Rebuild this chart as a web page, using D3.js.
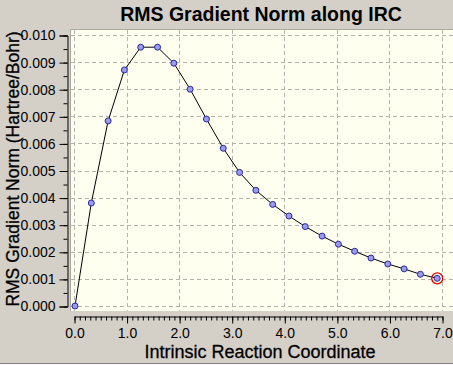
<!DOCTYPE html>
<html><head><meta charset="utf-8">
<script src="https://cdn.jsdelivr.net/npm/d3@7"></script>
<style>
html,body{margin:0;padding:0;background:#d4d0c8;}
svg{display:block;}
</style></head>
<body>
<script>
const title = "RMS Gradient Norm along IRC";
const xLabel = "Intrinsic Reaction Coordinate";
const yLabel = "RMS Gradient Norm (Hartree/Bohr)";
const ircCoord = [0, 0.31, 0.63, 0.94, 1.25, 1.57, 1.88, 2.19, 2.50, 2.82, 3.13, 3.44, 3.76, 4.07, 4.38, 4.70, 5.01, 5.32, 5.63, 5.95, 6.26, 6.57, 6.89];
const gradNorm = [0.0000, 0.00380, 0.00683, 0.00871, 0.00955, 0.00955, 0.00896, 0.00800, 0.00690, 0.00582, 0.00493, 0.00427, 0.00375, 0.00332, 0.00293, 0.00258, 0.00228, 0.00202, 0.00177, 0.00155, 0.00137, 0.00117, 0.00102];
const yTicks = [0.000, 0.001, 0.002, 0.003, 0.004, 0.005, 0.006, 0.007, 0.008, 0.009, 0.010];
const xTicks = [0, 1, 2, 3, 4, 5, 6, 7];

const W = 453, H = 365;
const svg = d3.select("body").append("svg").attr("width", W).attr("height", H);

svg.append("rect").attr("width", W).attr("height", H).attr("fill", "#d4d0c8");

const x = d3.scaleLinear().domain([0, 7]).range([75, 443]);
const y = d3.scaleLinear().domain([0, 0.010]).range([306, 35]);

// plot area
svg.append("rect").attr("x", 70).attr("y", 29).attr("width", W - 70).attr("height", 282).attr("fill", "#fffff0");
svg.append("path").attr("d", `M70.5,311V29.5H${W}`).attr("fill", "none").attr("stroke", "#a8a8a0").attr("stroke-width", 1);

// grid
const grid = svg.append("g").attr("class", "grid");
yTicks.forEach(t => {
  grid.append("line").attr("x1", 71).attr("x2", W).attr("y1", Math.round(y(t)) + 0.5).attr("y2", Math.round(y(t)) + 0.5);
});
xTicks.forEach(t => {
  grid.append("line").attr("y1", 30).attr("y2", 311).attr("x1", Math.round(x(t)) - 0.5).attr("x2", Math.round(x(t)) - 0.5);
});
grid.selectAll("line").attr("stroke", "#b4b4ac").attr("stroke-dasharray", "4,3").attr("stroke-width", 1);

const tickFont = "'Liberation Sans Narrow', 'Arial Narrow', 'Liberation Sans', Arial, sans-serif";

function blackAxis(g) {
  g.selectAll("line, path.domain").attr("stroke", "#000");
}

// y axis
const yMinor = d3.range(0, 0.0101, 0.0005);
const yMinorAxis = svg.append("g").attr("transform", "translate(67.5,0.5)")
  .call(d3.axisLeft(y).tickValues(yMinor).tickSize(4).tickSizeOuter(0).tickFormat(""));
yMinorAxis.select(".domain").remove();
blackAxis(yMinorAxis);
const yAxis = svg.append("g").attr("transform", "translate(67.5,0.5)")
  .call(d3.axisLeft(y).tickValues(yTicks).tickSize(8).tickSizeOuter(8).tickPadding(4).tickFormat(d3.format(".3f")));
blackAxis(yAxis);
yAxis.selectAll("text").attr("font-family", tickFont).attr("font-size", 14).attr("fill", "#000");

// x axis
const xMinor = d3.range(0, 7.001, 0.1);
const xMinorAxis = svg.append("g").attr("transform", "translate(-0.5,316.5)")
  .call(d3.axisBottom(x).tickValues(xMinor).tickSize(4).tickSizeOuter(0).tickFormat(""));
xMinorAxis.select(".domain").remove();
blackAxis(xMinorAxis);
const xAxis = svg.append("g").attr("transform", "translate(-0.5,316.5)")
  .call(d3.axisBottom(x).tickValues(xTicks).tickSize(7).tickSizeOuter(0).tickPadding(5).tickFormat(d3.format(".1f")));
blackAxis(xAxis);
xAxis.selectAll("text").attr("font-family", tickFont).attr("font-size", 14).attr("fill", "#000");

// line + markers
const pts = ircCoord.map((c, i) => [c, gradNorm[i]]);
svg.append("path").datum(pts)
  .attr("d", d3.line().x(d => x(d[0])).y(d => y(d[1])))
  .attr("fill", "none").attr("stroke", "#000").attr("stroke-width", 1);
svg.append("g").selectAll("circle").data(pts).join("circle")
  .attr("cx", d => x(d[0])).attr("cy", d => y(d[1])).attr("r", 3)
  .attr("fill", "#9a9af0").attr("stroke", "#2a2a9a").attr("stroke-width", 1);
const last = pts[pts.length - 1];
svg.append("circle").attr("cx", x(last[0])).attr("cy", y(last[1])).attr("r", 5.5)
  .attr("fill", "none").attr("stroke", "#e00000").attr("stroke-width", 1.3);

// titles
svg.append("text").attr("x", 261).attr("y", 21).attr("text-anchor", "middle")
  .attr("font-family", "'Liberation Sans', Arial, sans-serif").attr("font-weight", "bold").attr("font-size", 19.5)
  .attr("fill", "#000").text(title);
svg.append("text").attr("x", 260).attr("y", 358).attr("text-anchor", "middle")
  .attr("font-family", "'Liberation Sans', Arial, sans-serif").attr("font-size", 18)
  .attr("fill", "#000").attr("stroke", "#000").attr("stroke-width", 0.3).text(xLabel);
svg.append("text").attr("transform", "translate(18.5,169) rotate(-90)").attr("text-anchor", "middle")
  .attr("font-family", "'Liberation Sans', Arial, sans-serif").attr("font-size", 17.5)
  .attr("fill", "#000").attr("stroke", "#000").attr("stroke-width", 0.3).text(yLabel);

// bottom window edge
svg.append("line").attr("x1", 0).attr("x2", W).attr("y1", 363.5).attr("y2", 363.5).attr("stroke", "#808080");
svg.append("line").attr("x1", 0).attr("x2", W).attr("y1", 364.5).attr("y2", 364.5).attr("stroke", "#ffffff");
</script>
</body></html>
